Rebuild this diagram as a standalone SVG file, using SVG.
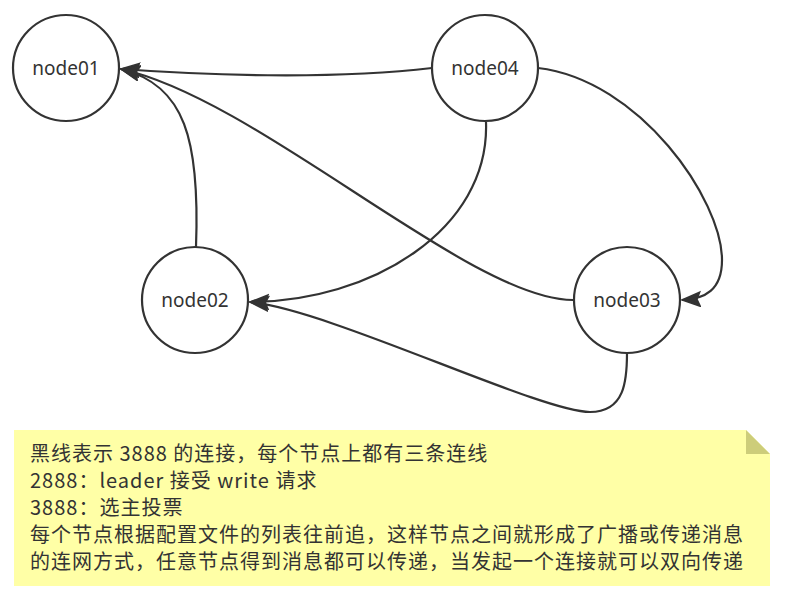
<svg xmlns="http://www.w3.org/2000/svg" width="787" height="592" viewBox="0 0 787 592">
<style>
.node circle{fill:#fff;stroke:#333;stroke-width:2.2}
.node text{font-family:"Noto Sans","Noto Sans CJK SC",sans-serif;font-size:19px;fill:#333;text-anchor:middle}
.edge{fill:none;stroke:#333;stroke-width:2.2;marker-end:url(#arr)}
.note text{font-family:"Noto Sans CJK SC","Noto Sans",sans-serif;font-size:20px;letter-spacing:1px;fill:#333}
</style>
<defs>
<marker id="arr" markerUnits="userSpaceOnUse" markerWidth="24" markerHeight="20" refX="19" refY="8" orient="auto">
<path d="M1,1 L19,8 L1,15 L4,8 Z" fill="#333" stroke="#333" stroke-width="1.5" stroke-linejoin="miter"/>
</marker>
</defs>
<rect width="787" height="592" fill="#fff"/>
<g id="connectors">
<path class="edge" d="M432,68 C 330,80 200,75 121,69"/>
<path class="edge" d="M196,247 C 200,140 185,85 121,69"/>
<path class="edge" d="M573,300 C 470,300 260,100 121,69"/>
<path class="edge" d="M486,122 C 490,230 370,302 250,302"/>
<path class="edge" d="M538,68 C 640,80 722,200 722,260 C 722,290 705,299 682,300"/>
<path class="edge" d="M627,353 C 627,380 625,412 590,412 C 540,412 330,310 250,302"/>
</g>
<g id="node01" class="node"><circle cx="66" cy="68" r="53"/><text x="66" y="75">node01</text></g>
<g id="node04" class="node"><circle cx="485" cy="68" r="53"/><text x="485" y="75">node04</text></g>
<g id="node02" class="node"><circle cx="195" cy="300" r="53"/><text x="195" y="307">node02</text></g>
<g id="node03" class="node"><circle cx="627" cy="300" r="53"/><text x="627" y="307">node03</text></g>
<g id="note" class="note">
<path d="M14,430 L746,430 L770,454 L770,586 L14,586 Z" fill="#ffffa6"/>
<path d="M746,430 L746,454 L770,454 Z" fill="#cdcd7a"/>
<text x="30" y="461">黑线表示 3888 的连接，每个节点上都有三条连线</text>
<text x="30" y="488">2888：leader 接受 write 请求</text>
<text x="30" y="515">3888：选主投票</text>
<text x="30" y="542">每个节点根据配置文件的列表往前追，这样节点之间就形成了广播或传递消息</text>
<text x="30" y="569">的连网方式，任意节点得到消息都可以传递，当发起一个连接就可以双向传递</text>
</g>
</svg>
